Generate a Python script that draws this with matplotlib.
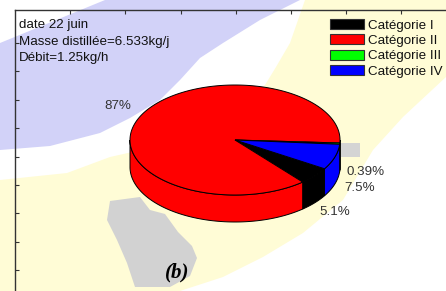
import numpy as np
import matplotlib
matplotlib.use("Agg")
import matplotlib.pyplot as plt
from matplotlib.patches import Polygon, Patch

plt.rcParams['font.family'] = ['Liberation Sans', 'DejaVu Sans']

# ---- data ----
categories = ['Catégorie I', 'Catégorie II', 'Catégorie III', 'Catégorie IV']
values = [5.1, 87, 0.39, 7.5]
colors = ['#000000', '#ff0000', '#00ff00', '#0000ff']
info_lines = ['date 22 juin', 'Masse distillée=6.533kg/j', 'Débit=1.25kg/h']
panel_label = '(b)'

# ---- layout ----
W, H = 446, 291
fig = plt.figure(figsize=(W / 100, H / 100), dpi=100)
bg = fig.add_axes([0, 0, 1, 1])
bg.set_xlim(0, W)
bg.set_ylim(H, 0)
bg.axis('off')

# background watermark (decoration)
lav = [(0, 43), (105, 0), (300, 0), (260, 20), (223, 43), (200, 58), (180, 80),
       (160, 100), (130, 118), (100, 133), (50, 146), (0, 150)]
yel = [(0, 180), (67, 173), (110, 157), (150, 148), (230, 110), (265, 85),
       (276, 67), (290, 43), (305, 0), (W, 0), (W, 77), (403, 117), (373, 150), (343, 200),
       (303, 233), (263, 257), (223, 277), (180, H), (0, H)]
gray = [(110, 201), (140, 197), (150, 210), (165, 214), (178, 232), (192, 246),
        (197, 258), (190, 276), (170, 287), (135, 287), (127, 263), (117, 240), (107, 220)]
gray2 = [(341, 143), (360, 143), (360, 157), (341, 157)]
bg.add_patch(Polygon(lav, closed=True, facecolor='#d2d2f8', edgecolor='none', zorder=0))
bg.add_patch(Polygon(yel, closed=True, facecolor='#fffcd6', edgecolor='none', zorder=0))
bg.add_patch(Polygon(gray, closed=True, facecolor='#d2d2d2', edgecolor='none', zorder=0.5))
bg.add_patch(Polygon(gray2, closed=True, facecolor='#d4d4d4', edgecolor='none', zorder=0.5))

# frame with inward ticks (left & top)
frame = fig.add_axes([15 / W, 0, (W - 15) / W, (H - 10) / H])
frame.set_xlim(15, W)
frame.set_ylim(H, 10)
frame.patch.set_alpha(0)
for s in ['right', 'bottom']:
    frame.spines[s].set_visible(False)
for s in ['left', 'top']:
    frame.spines[s].set_color('#333333')
    frame.spines[s].set_linewidth(1.0)
frame.xaxis.tick_top()
frame.set_xticks(np.arange(15 + 55.2, W, 55.2))
frame.set_yticks(np.arange(43, H, 28.4))
frame.tick_params(direction='in', length=3, width=0.8, color='#333333',
                  labeltop=False, labelleft=False, labelbottom=False)

# ---- 3D pie ----
cx, cy, rx, ry, depth = 235, 140, 105, 55, 27
start = -31.5
total = sum(values)
bounds = []
theta = start
for v in values:
    a1 = theta
    a2 = theta - 360.0 * v / total
    bounds.append((a2, a1))
    theta = a2

def pt(t, dz=0):
    r = np.radians(t)
    return cx + rx * np.cos(r), cy - ry * np.sin(r) + dz

# sides (front half only)
for (lo, hi), c in zip(bounds, colors):
    for k in range(-2, 2):
        s = max(lo, -180 + 360 * k)
        e = min(hi, 360 * k)
        if e > s:
            ts = np.linspace(s, e, 80)
            top = [pt(t) for t in ts]
            bot = [pt(t, depth) for t in ts[::-1]]
            bg.add_patch(Polygon(top + bot, closed=True, facecolor=c,
                                 edgecolor='black', lw=0.7, zorder=2))
# tops
for (lo, hi), c in zip(bounds, colors):
    n = max(4, int((hi - lo) * 2))
    ts = np.linspace(hi, lo, n)
    poly = [(cx, cy)] + [pt(t) for t in ts]
    bg.add_patch(Polygon(poly, closed=True, facecolor=c, edgecolor='black',
                         lw=0.7, zorder=3))

# percentage labels
for (lo, hi), v in zip(bounds, values):
    m = (lo + hi) / 2
    r = np.radians(m)
    f = 1.25
    x = cx + rx * f * np.cos(r)
    y = cy - ry * f * np.sin(r) + (depth if np.sin(r) < 0 else 0) - (3 if np.sin(r) >= 0 else 0)
    bg.text(x, y, f"{v:.2g}%", ha='center', va='center', fontsize=9.6,
            color='#333333', zorder=5)

# info text
for i, line in enumerate(info_lines):
    bg.text(19, 25 + 16.7 * i, line, ha='left', va='center', fontsize=9.6,
            color='#111111', zorder=5)

# legend
handles = [Patch(facecolor=c, edgecolor='#333333', lw=0.8) for c in colors]
leg = fig.legend(handles, categories, loc='upper left',
                 bbox_to_anchor=(330 / W, 1 - 19 / H), frameon=False,
                 fontsize=9.6, handlelength=2.55, handleheight=0.75,
                 handletextpad=0.3, labelspacing=0.22, borderpad=0.0,
                 borderaxespad=0.0)
for t in leg.get_texts():
    t.set_color('#111111')

# panel label
bg.text(177, 272, panel_label, ha='center', va='center', fontsize=15,
        family='Liberation Serif', style='italic', weight='bold', zorder=5)

fig.savefig('out.png', dpi=100)
